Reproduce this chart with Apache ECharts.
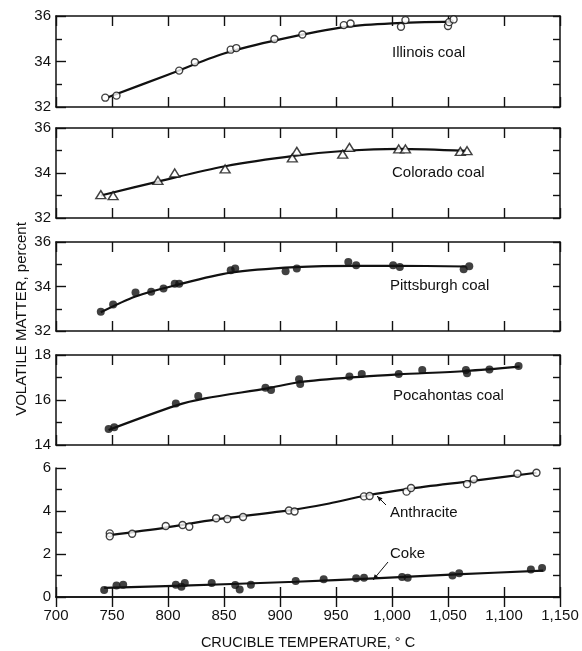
<!DOCTYPE html>
<html>
<head>
<meta charset="utf-8">
<script src="https://cdn.jsdelivr.net/npm/echarts@6/dist/echarts.min.js"></script>
<style>
  html, body { margin: 0; padding: 0; background: #fff; }
  #chart { width: 582px; height: 651px; }
</style>
</head>
<body>
<div id="chart"></div>
<script>
// measured points [temperature, volatile matter %]
const illinoisPts = [[744,32.41],[754,32.5],[810,33.6],[824,33.97],[856,34.52],[861,34.59],[895,34.99],[920,35.19],[957,35.6],[963,35.67],[1008,35.53],[1012,35.82],[1050,35.56],[1051,35.73],[1055,35.85]];
const illinoisFit = [[747,32.44],[800,33.42],[850,34.35],[900,34.97],[960,35.53],[1000,35.68],[1055,35.75]];

const coloradoPts = [[740,33.04],[751,32.99],[791,33.67],[806,34.0],[851,34.18],[911,34.67],[915,34.96],[956,34.84],[962,35.14],[1006,35.07],[1012,35.07],[1061,34.96],[1067,34.99]];
const coloradoFit = [[740,33.0],[792,33.63],[851,34.3],[914,34.77],[962,35.0],[1006,35.07],[1066,34.98]];

const pittsburghPts = [[740,32.87],[751,33.19],[771,33.73],[785,33.76],[796,33.91],[806,34.12],[810,34.12],[856,34.73],[860,34.81],[905,34.69],[915,34.81],[961,35.1],[968,34.96],[1001,34.96],[1007,34.88],[1064,34.78],[1069,34.91]];
const pittsburghFit = [[740,32.84],[771,33.55],[807,34.06],[856,34.62],[914,34.87],[968,34.93],[1003,34.93],[1066,34.9]];

const pocahontasPts = [[747,14.71],[752,14.79],[807,15.85],[827,16.18],[887,16.55],[892,16.44],[917,16.92],[918,16.71],[962,17.04],[973,17.16],[1006,17.16],[1027,17.33],[1066,17.33],[1067,17.19],[1087,17.36],[1113,17.51]];
const pocahontasFit = [[747,14.67],[807,15.75],[833,16.07],[889,16.52],[917,16.79],[974,17.04],[1006,17.14],[1066,17.29],[1114,17.48]];

const anthracitePts = [[748,2.96],[748,2.82],[768,2.94],[798,3.3],[813,3.35],[819,3.27],[843,3.66],[853,3.63],[867,3.72],[908,4.02],[913,3.98],[975,4.68],[980,4.7],[1013,4.9],[1017,5.07],[1067,5.25],[1073,5.48],[1112,5.73],[1129,5.78]];
const anthraciteFit = [[748,2.88],[798,3.23],[842,3.6],[911,4.05],[944,4.35],[977,4.72],[1015,5.03],[1072,5.4],[1129,5.78]];

const cokePts = [[743,0.33],[754,0.53],[760,0.57],[807,0.57],[812,0.48],[815,0.65],[839,0.65],[860,0.56],[864,0.35],[874,0.57],[914,0.75],[939,0.83],[968,0.87],[975,0.9],[1009,0.93],[1014,0.9],[1054,1.0],[1060,1.11],[1124,1.28],[1134,1.35]];
const cokeFit = [[743,0.42],[813,0.53],[914,0.71],[984,0.87],[1057,1.05],[1135,1.23]];

const panelRanges = [[32,36],[32,36],[32,36],[14,18],[0,6]];
const xMin = 700, xMax = 1150, xStep = 50;

const chart = echarts.init(document.getElementById('chart'));

const grids = [
  {left: 56, right: 22, top: 16, height: 91},
  {left: 56, right: 22, top: 128, height: 90},
  {left: 56, right: 22, top: 242, height: 89},
  {left: 56, right: 22, top: 355, height: 90},
  {left: 56, right: 22, top: 468, height: 134}
];

const labelFont = 'Liberation Sans, Arial, sans-serif';
const ink = '#111';
const line = {show: true, lineStyle: {color: ink, width: 1.5}};
const tickStyle = {color: ink, width: 1.4};

const xAxes = [], yAxes = [];
grids.forEach((g, i) => {
  const last = i === grids.length - 1;
  xAxes.push({
    type: 'value', gridIndex: i, min: xMin, max: xMax, interval: xStep,
    axisLine: line,
    axisTick: {inside: true, length: 10, lineStyle: tickStyle},
    axisLabel: {
      show: last, color: ink, fontSize: 15, fontFamily: labelFont, margin: 11,
      formatter: v => v >= 1000 ? String(v).replace(/(\d)(\d{3})$/, '$1,$2') : String(v)
    },
    splitLine: {show: false},
    name: last ? 'CRUCIBLE TEMPERATURE, \u00b0 C' : '',
    nameLocation: 'middle', nameGap: 38,
    nameTextStyle: {color: ink, fontSize: 14.5, fontFamily: labelFont}
  });
  xAxes.push({
    type: 'value', gridIndex: i, position: 'top', min: xMin, max: xMax, interval: xStep,
    axisLine: line,
    axisTick: {inside: true, length: 10, lineStyle: tickStyle},
    axisLabel: {show: false}, splitLine: {show: false}
  });
  const r = panelRanges[i];
  yAxes.push({
    type: 'value', gridIndex: i, min: r[0], max: r[1], interval: 2,
    axisLine: line,
    axisTick: {inside: true, length: 10, lineStyle: tickStyle},
    minorTick: {show: true, splitNumber: 2, length: 6, lineStyle: tickStyle},
    axisLabel: {color: ink, fontSize: 15, fontFamily: labelFont, margin: 5},
    splitLine: {show: false}, minorSplitLine: {show: false}
  });
  yAxes.push({
    type: 'value', gridIndex: i, position: 'right', min: r[0], max: r[1], interval: 1,
    axisLine: line,
    axisTick: {inside: true, length: 7, lineStyle: tickStyle},
    axisLabel: {show: false}, splitLine: {show: false}
  });
});

const openCircle = {symbol: 'circle', symbolSize: 7, itemStyle: {color: '#fff', borderColor: ink, borderWidth: 1.4}};
const filledCircle = {symbol: 'circle', symbolSize: 8, itemStyle: {color: ink, borderWidth: 0}};
const openTriangle = {symbol: 'triangle', symbolSize: [10, 8], itemStyle: {color: '#fff', borderColor: ink, borderWidth: 1.4}};

function fit(data, panel) {
  return {type: 'line', data: data, xAxisIndex: panel * 2, yAxisIndex: panel * 2, smooth: 0.3,
    showSymbol: false, symbol: 'none', lineStyle: {color: ink, width: 2.2}, z: 2, animation: false, silent: true};
}
function pts(data, panel, style) {
  return Object.assign({type: 'scatter', data: data, xAxisIndex: panel * 2, yAxisIndex: panel * 2,
    z: 3, animation: false, silent: true}, style);
}

const series = [
  fit(illinoisFit, 0), pts(illinoisPts, 0, openCircle),
  fit(coloradoFit, 1), pts(coloradoPts, 1, openTriangle),
  fit(pittsburghFit, 2), pts(pittsburghPts, 2, filledCircle),
  fit(pocahontasFit, 3), pts(pocahontasPts, 3, filledCircle),
  fit(anthraciteFit, 4), pts(anthracitePts, 4, openCircle),
  fit(cokeFit, 4), pts(cokePts, 4, filledCircle)
];

function tag(text, x, y) {
  return {type: 'text', x: x, y: y, style: {text: text, fill: ink, font: '15px ' + labelFont, textVerticalAlign: 'middle'}};
}
function arrow(x1, y1, x2, y2) {
  const a = Math.atan2(y2 - y1, x2 - x1), L = 6, w = 0.4;
  return [
    {type: 'line', shape: {x1: x1, y1: y1, x2: x2, y2: y2}, style: {stroke: ink, lineWidth: 1}},
    {type: 'polygon', shape: {points: [[x2, y2],
      [x2 - L * Math.cos(a - w), y2 - L * Math.sin(a - w)],
      [x2 - L * Math.cos(a + w), y2 - L * Math.sin(a + w)]]}, style: {fill: ink}}
  ];
}

chart.setOption({
  animation: false,
  grid: grids,
  xAxis: xAxes,
  yAxis: yAxes,
  series: series,
  graphic: [
    tag('Illinois coal', 392, 53),
    tag('Colorado coal', 392, 173),
    tag('Pittsburgh coal', 390, 286),
    tag('Pocahontas coal', 393, 396),
    tag('Anthracite', 390, 513),
    tag('Coke', 390, 554),
    ...arrow(386, 505, 377, 496),
    ...arrow(388, 562, 373, 580),
    {type: 'text', x: 22, y: 319, rotation: Math.PI / 2,
      style: {text: 'VOLATILE MATTER, percent', fill: ink, font: '15px ' + labelFont,
        textAlign: 'center', textVerticalAlign: 'middle'}}
  ]
});
</script>
</body>
</html>
